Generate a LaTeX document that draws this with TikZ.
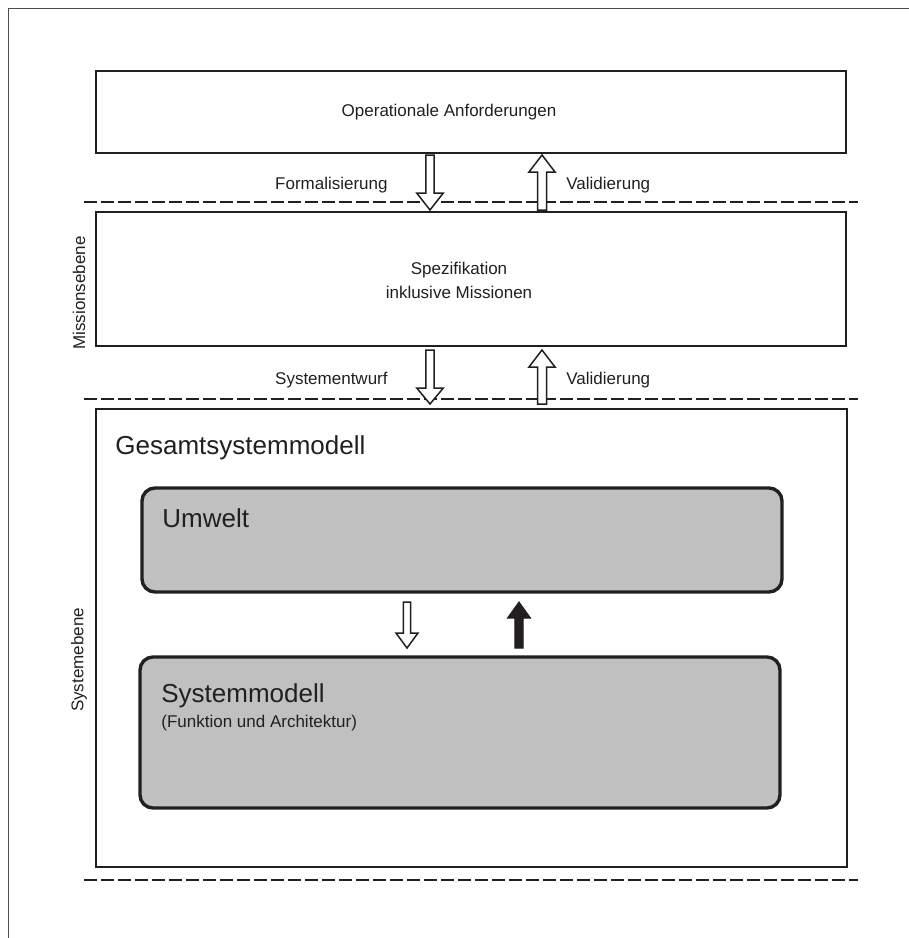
\documentclass[tikz,border=0pt]{standalone}
\usepackage{fontspec}
\setmainfont{Liberation Sans}
\definecolor{ink}{HTML}{231F20}
\definecolor{boxgray}{HTML}{C0C0C0}
% block arrow: style, x centre, y tail, y head base, y tip, half shaft, half head
\newcommand\blockarrow[7]{%
  \draw[#1] ({#2-#6},#3) -- ({#2+#6},#3) -- ({#2+#6},#4) -- ({#2+#7},#4)
    -- (#2,#5) -- ({#2-#7},#4) -- ({#2-#6},#4) -- cycle;}
\begin{document}
\begin{tikzpicture}[x=0.5pt,y=-0.5pt,
  frame/.style={draw=black!70,line width=0.5pt},
  levelbox/.style={draw=ink,line width=1pt,fill=white,inner sep=0pt,outer sep=0pt,anchor=north west},
  modelbox/.style={draw=ink,line width=1.7pt,fill=boxgray,rounded corners=6.5pt,inner sep=0pt,outer sep=0pt,anchor=north west},
  sepline/.style={draw=ink,line width=1pt,dash pattern=on 6.5pt off 2pt},
  hollowarrow/.style={draw=ink,line width=0.75pt,fill=white,line join=miter},
  solidarrow/.style={draw=ink,fill=ink,line width=0.5pt,line join=miter},
  small/.style={font=\fontsize{8.5pt}{10pt}\selectfont,text=ink,inner sep=0pt},
  big/.style={font=\fontsize{13pt}{15pt}\selectfont,text=ink,inner sep=0pt}]
\useasboundingbox (0,0) rectangle (909,938);

% page frame
\draw[frame] (8,938) -- (8,8) -- (909,8);

% level separators
\draw[sepline] (84,202) -- (858,202);
\draw[sepline] (84,399) -- (858,399);
\draw[sepline] (84,880) -- (858,880);

% level boxes
\node[levelbox,minimum width=375pt,minimum height=41pt] (ops) at (96,71) {};
\node[levelbox,minimum width=375pt,minimum height=67pt] (spec) at (96,212) {};
\node[levelbox,minimum width=375.5pt,minimum height=229pt] (gesamt) at (96,409) {};

% model boxes
\node[modelbox,minimum width=320pt,minimum height=52pt] (umwelt) at (142,488) {};
\node[modelbox,minimum width=320pt,minimum height=75.5pt] (sysmod) at (140,657) {};

% texts
\node[small,anchor=base] (opstext) at (449,116) {Operationale Anforderungen};
\node[small,anchor=base] (spectext1) at (459,274) {Spezifikation};
\node[small,anchor=base] (spectext2) at (459,298) {inklusive Missionen};
\node[small,anchor=base east] (formal) at (388,189) {Formalisierung};
\node[small,anchor=base west] (valid1) at (566,189) {Validierung};
\node[small,anchor=base east] (entwurf) at (388,384) {Systementwurf};
\node[small,anchor=base west] (valid2) at (566,384) {Validierung};
\node[big,anchor=base west] (gesamttext) at (115,454) {Gesamtsystemmodell};
\node[big,anchor=base west] (umwelttext) at (162,527) {Umwelt};
\node[big,anchor=base west] (sysmodtext) at (161,702) {Systemmodell};
\node[small,anchor=base west] (sysmodsub) at (161,727) {(Funktion und Architektur)};
\node[small,rotate=90] (mission) at (79,293) {Missionsebene};
\node[small,rotate=90] (sysebene) at (79,660) {Systemebene};

% transitions between levels
\blockarrow{hollowarrow}{430}{155}{193}{210}{4.2}{13.3}
\blockarrow{hollowarrow}{542}{210}{172}{155}{4.5}{13}
\blockarrow{hollowarrow}{430}{350}{388}{404}{4.2}{13.3}
\blockarrow{hollowarrow}{542}{404}{367}{350}{4.5}{13}

% interaction between environment and system model
\blockarrow{hollowarrow}{407}{602}{633}{648}{3.7}{11}
\blockarrow{solidarrow}{519}{648}{618}{602}{4.2}{11.5}
\end{tikzpicture}
\end{document}
